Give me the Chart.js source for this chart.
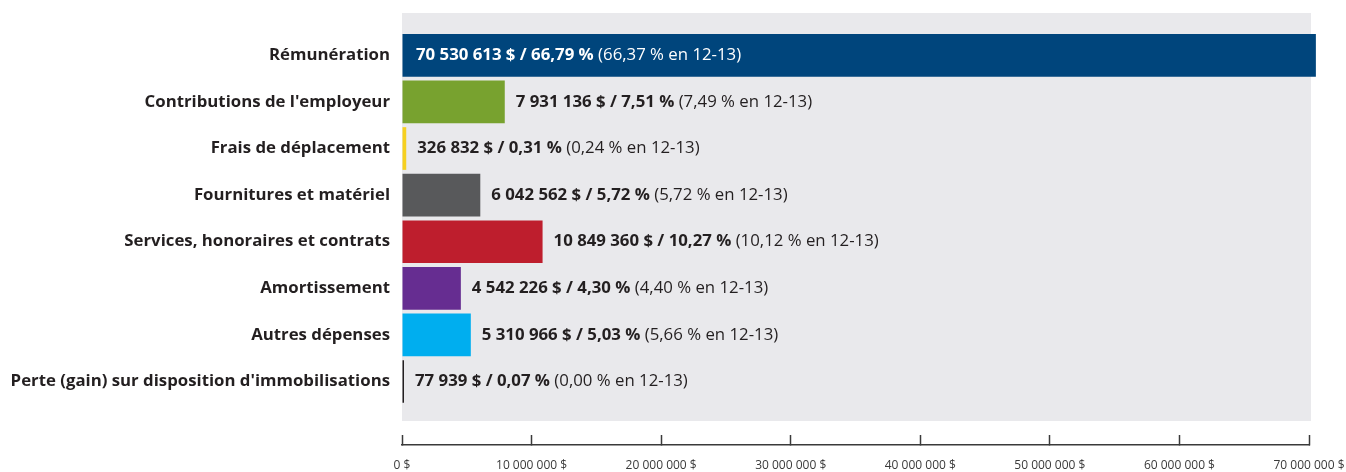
<!DOCTYPE html>
<html lang="fr">
<head>
<meta charset="utf-8">
<title>Dépenses par catégorie</title>
<script src="https://cdn.jsdelivr.net/npm/chart.js@4"></script>
<style>
    html, body { margin: 0; padding: 0; background: #fff; }
    #wrap { width: 1346px; height: 472px; position: relative; }
</style>
</head>
<body>
<div id="wrap"><canvas id="depensesChart"></canvas></div>
<script>
const categories = [
    'Rémunération',
    'Contributions de l\'employeur',
    'Frais de déplacement',
    'Fournitures et matériel',
    'Services, honoraires et contrats',
    'Amortissement',
    'Autres dépenses',
    'Perte (gain) sur disposition d\'immobilisations'
];
const amounts = [70530613, 7931136, 326832, 6042562, 10849360, 4542226, 5310966, 77939];
const shares = [66.79, 7.51, 0.31, 5.72, 10.27, 4.30, 5.03, 0.07];
const prevShares = [66.37, 7.49, 0.24, 5.72, 10.12, 4.40, 5.66, 0.00];
const prevYear = '12-13';
const barColors = ['#00457c', '#78a22f', '#f6d020', '#58595b', '#be1e2d', '#662d91', '#00aeef', '#231f20'];
const xTicks = [0, 10000000, 20000000, 30000000, 40000000, 50000000, 60000000, 70000000];

const FONT = '"Open Sans", Lato, sans-serif';
const INK = '#231f20';
const VALUE_SIZE = 16.8;

function formatNumber(n) {
    return String(Math.round(n)).replace(/\B(?=(\d{3})+(?!\d))/g, ' ');
}

function formatPct(p) {
    return p.toFixed(2).replace('.', ',') + ' %';
}

// grey plotting panel behind the bars
const panelPlugin = {
    id: 'panel',
    beforeDatasetsDraw(chart) {
        const { ctx, chartArea } = chart;
        ctx.save();
        ctx.fillStyle = '#e9e9ec';
        ctx.fillRect(chartArea.left, chartArea.top, chartArea.right - chartArea.left + 2, chartArea.bottom - chartArea.top - 24);
        ctx.restore();
    }
};

// "amount $ / share %" (bold) + "(prev % en 12-13)"
const valueLabelPlugin = {
    id: 'valueLabels',
    afterDatasetsDraw(chart) {
        const { ctx, chartArea } = chart;
        const meta = chart.getDatasetMeta(0);
        ctx.save();
        ctx.textBaseline = 'middle';
        meta.data.forEach((bar, i) => {
            const boldText = formatNumber(amounts[i]) + ' $ / ' + formatPct(shares[i]);
            const normalText = ' (' + formatPct(prevShares[i]) + ' en ' + prevYear + ')';
            ctx.font = 'bold ' + VALUE_SIZE + 'px ' + FONT;
            const wBold = ctx.measureText(boldText).width;
            ctx.font = VALUE_SIZE + 'px ' + FONT;
            const wNormal = ctx.measureText(normalText).width;

            let x = bar.x + 11;
            let color = INK;
            if (x + wBold + wNormal > chartArea.right) {
                x = chartArea.left + 14;
                color = '#ffffff';
            }
            ctx.fillStyle = color;
            ctx.font = 'bold ' + VALUE_SIZE + 'px ' + FONT;
            ctx.fillText(boldText, x, bar.y);
            ctx.font = VALUE_SIZE + 'px ' + FONT;
            ctx.fillText(normalText, x + wBold, bar.y);
        });
        ctx.restore();
    }
};

const ctx = document.getElementById('depensesChart').getContext('2d');
new Chart(ctx, {
    type: 'bar',
    data: {
        datasets: [{
            data: amounts.map((v, i) => ({ x: v, y: i })),
            backgroundColor: barColors,
            borderWidth: 0,
            categoryPercentage: 1,
            barPercentage: 0.916,
            minBarLength: 2,
            clip: false
        }]
    },
    options: {
        indexAxis: 'y',
        responsive: true,
        maintainAspectRatio: false,
        animation: false,
        events: [],
        layout: { padding: { top: 13, right: 0, bottom: 0, left: 0 } },
        plugins: {
            legend: { display: false },
            tooltip: { enabled: false },
            title: { display: false }
        },
        scales: {
            y: {
                type: 'linear',
                position: 'left',
                reverse: true,
                offset: false,
                bounds: 'data',
                min: -0.908,
                max: 8.362,
                grid: { display: false, drawTicks: false, offset: false },
                border: { display: false },
                afterBuildTicks: scale => {
                    scale.ticks = categories.map((_, i) => ({ value: i }));
                },
                afterFit: scale => {
                    scale.width = 402;
                    scale.paddingTop = 0;
                    scale.paddingBottom = 0;
                },
                ticks: {
                    padding: 12,
                    color: INK,
                    font: { family: FONT, size: 16.8, weight: 'bold' },
                    callback: value => categories[value] ?? ''
                }
            },
            x: {
                type: 'linear',
                position: 'bottom',
                min: 0,
                max: 70000000,
                grid: {
                    drawOnChartArea: false,
                    drawTicks: true,
                    tickLength: -10,
                    tickWidth: 1.5,
                    color: '#3a3a3a'
                },
                border: { display: true, color: '#3a3a3a', width: 1.5 },
                afterBuildTicks: scale => {
                    scale.ticks = xTicks.map(v => ({ value: v }));
                },
                afterFit: scale => {
                    scale.height = 27;
                    scale.paddingLeft = 0;
                    scale.paddingRight = 37;
                },
                ticks: {
                    padding: 23,
                    color: '#3a3a3a',
                    maxRotation: 0,
                    autoSkip: false,
                    font: { family: FONT, size: 12 },
                    callback: value => formatNumber(value) + ' $'
                }
            }
        }
    },
    plugins: [panelPlugin, valueLabelPlugin]
});
</script>
</body>
</html>
